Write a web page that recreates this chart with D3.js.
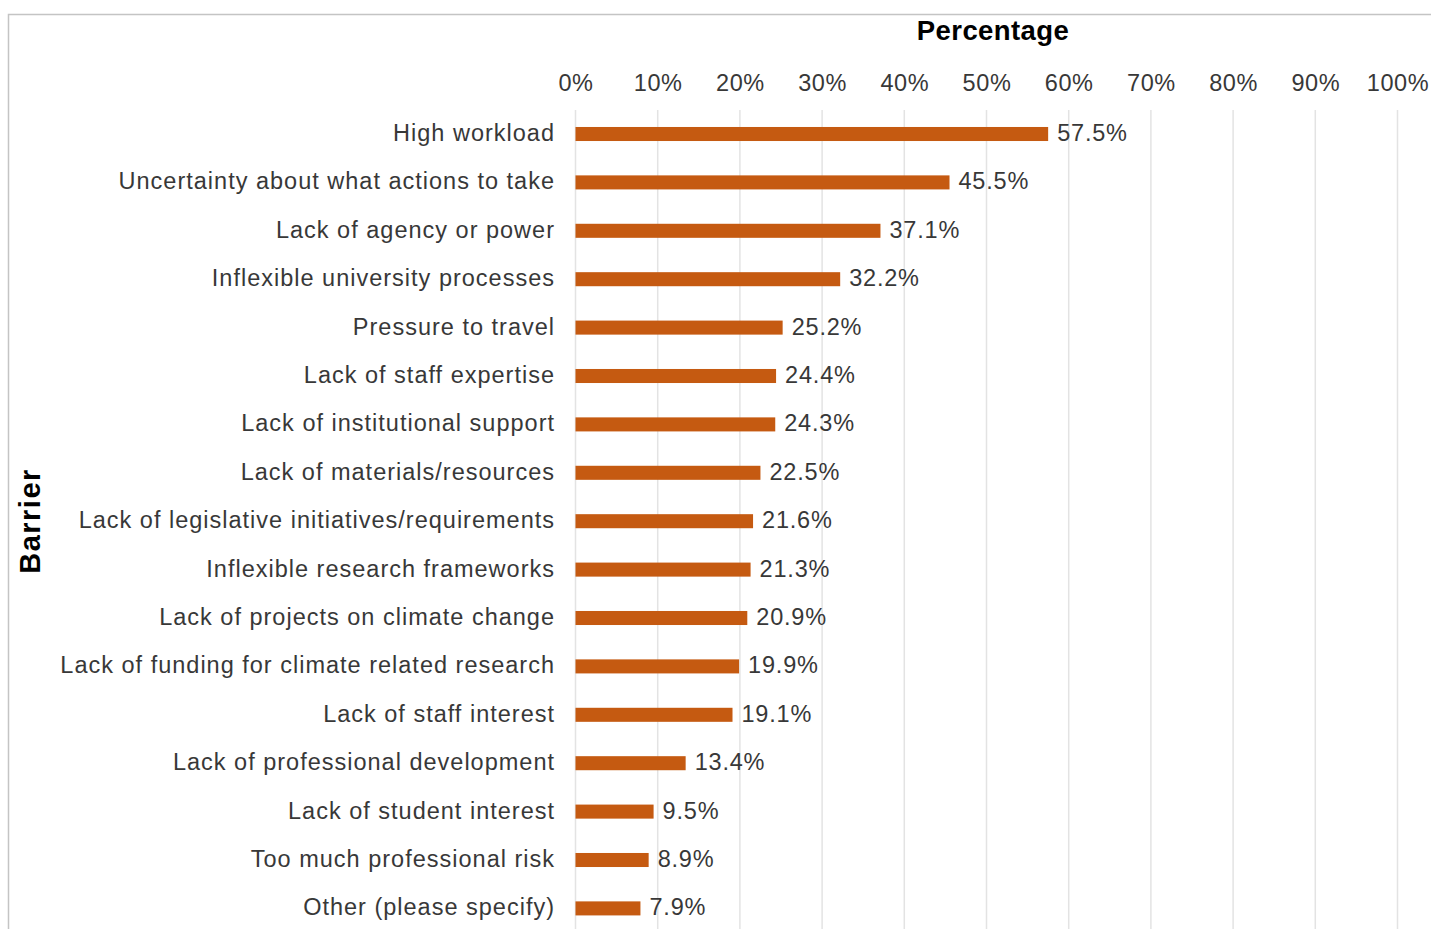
<!DOCTYPE html>
<html>
<head>
<meta charset="utf-8">
<script src="https://cdn.jsdelivr.net/npm/d3@7/dist/d3.min.js"></script>
<style>
  html, body { margin: 0; padding: 0; background: #fff; }
  svg { display: block; }
  text { font-family: "Liberation Sans", Arial, Helvetica, sans-serif; }
</style>
</head>
<body>
<svg id="chart" width="1431" height="929"></svg>
<script>
// Barriers to climate action and share of respondents citing each
const barriers = [
  "High workload",
  "Uncertainty about what actions to take",
  "Lack of agency or power",
  "Inflexible university processes",
  "Pressure to travel",
  "Lack of staff expertise",
  "Lack of institutional support",
  "Lack of materials/resources",
  "Lack of legislative initiatives/requirements",
  "Inflexible research frameworks",
  "Lack of projects on climate change",
  "Lack of funding for climate related research",
  "Lack of staff interest",
  "Lack of professional development",
  "Lack of student interest",
  "Too much professional risk",
  "Other (please specify)"
];
const percentages = [57.5, 45.5, 37.1, 32.2, 25.2, 24.4, 24.3, 22.5, 21.6, 21.3, 20.9, 19.9, 19.1, 13.4, 9.5, 8.9, 7.9];
const tickValues = [0, 10, 20, 30, 40, 50, 60, 70, 80, 90, 100];

const svg = d3.select("#chart");
const W = 1431, H = 929;
const FONT = "'Liberation Sans', Arial, sans-serif";
const TEXT_COLOR = "#383838";

// outer frame (top and left edges)
svg.append("path")
  .attr("d", `M8.5,${H} V14.5 H${W}`)
  .attr("fill", "none")
  .attr("stroke", "#c4c4c4")
  .attr("stroke-width", 1.5);

const x = d3.scaleLinear().domain([0, 100]).range([575.5, 1397.5]);
const step = 48.4;
const y = d3.scaleBand()
  .domain(barriers)
  .range([134 - step / 2, 134 - step / 2 + step * barriers.length])
  .paddingInner(0.71)
  .paddingOuter(0.355);

// vertical gridlines
svg.append("g")
  .selectAll("line")
  .data(tickValues)
  .join("line")
  .attr("x1", d => x(d)).attr("x2", d => x(d))
  .attr("y1", 110).attr("y2", H)
  .attr("stroke", "#e3e3e3")
  .attr("stroke-width", 1.5);

// top axis labels
const axis = d3.axisTop(x)
  .tickValues(tickValues)
  .tickFormat(d => d + "%")
  .tickSize(0)
  .tickPadding(0);
const ax = svg.append("g")
  .attr("transform", "translate(0,91)")
  .call(axis);
ax.select(".domain").remove();
ax.selectAll("text")
  .attr("font-size", 23.5)
  .attr("letter-spacing", 0.6)
  .attr("fill", TEXT_COLOR)
  .attr("dy", 0)
  .style("font-family", FONT);

// category labels
const ay = svg.append("g")
  .attr("transform", "translate(555,0)")
  .call(d3.axisLeft(y).tickSize(0).tickPadding(0));
ay.select(".domain").remove();
ay.selectAll("text")
  .attr("font-size", 23.5)
  .attr("letter-spacing", 1)
  .attr("fill", TEXT_COLOR)
  .attr("dy", "0.3em")
  .style("font-family", FONT);

// bars
svg.append("g")
  .selectAll("rect")
  .data(barriers)
  .join("rect")
  .attr("x", x(0))
  .attr("y", d => y(d))
  .attr("width", (d, i) => x(percentages[i]) - x(0))
  .attr("height", y.bandwidth())
  .attr("fill", "#c55a11");

// value labels
svg.append("g")
  .selectAll("text")
  .data(barriers)
  .join("text")
  .attr("x", (d, i) => x(percentages[i]) + 9)
  .attr("y", d => y(d) + y.bandwidth() / 2)
  .attr("dy", "0.3em")
  .attr("font-size", 23.5)
  .attr("letter-spacing", 0.8)
  .attr("fill", TEXT_COLOR)
  .text((d, i) => percentages[i].toFixed(1) + "%");

// axis titles
svg.append("text")
  .attr("x", 993)
  .attr("y", 40)
  .attr("text-anchor", "middle")
  .attr("font-size", 27.5)
  .attr("letter-spacing", 0.4)
  .attr("font-weight", "bold")
  .attr("fill", "#000")
  .text("Percentage");

svg.append("text")
  .attr("transform", "translate(40,521) rotate(-90)")
  .attr("text-anchor", "middle")
  .attr("font-size", 29)
  .attr("letter-spacing", 1.5)
  .attr("font-weight", "bold")
  .attr("fill", "#000")
  .text("Barrier");
</script>
</body>
</html>
